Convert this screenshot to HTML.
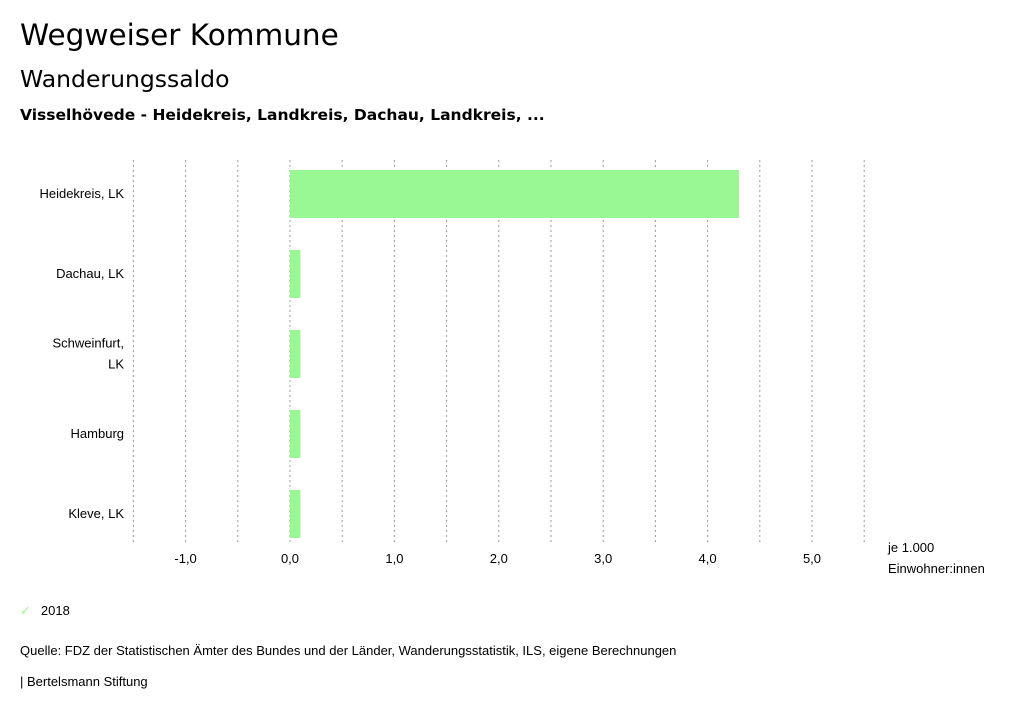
<!DOCTYPE html>
<html><head><meta charset="utf-8"><style>
body{margin:0;width:1024px;height:714px;background:#fff;font-family:"Liberation Sans",sans-serif;color:#000;position:relative;overflow:hidden}
.t{position:absolute;white-space:nowrap}
</style></head><body>
<div class="t" style="left:20px;top:18px;font-size:29.5px;font-family:'DejaVu Sans',sans-serif">Wegweiser Kommune</div>
<div class="t" style="left:20px;top:65px;font-size:23.5px;font-family:'DejaVu Sans',sans-serif">Wanderungssaldo</div>
<div class="t" style="left:20px;top:106px;font-size:15.5px;font-weight:bold;font-family:'DejaVu Sans',sans-serif">Visselhövede - Heidekreis, Landkreis, Dachau, Landkreis, ...</div>
<svg id="c" width="1024" height="714" style="position:absolute;left:0;top:0"></svg>
<div class="t" style="left:20px;top:603px;font-size:13px"><span style="color:#99f794;margin-right:10px">✓</span>2018</div>
<div class="t" style="left:20px;top:643px;font-size:13px">Quelle: FDZ der Statistischen Ämter des Bundes und der Länder, Wanderungsstatistik, ILS, eigene Berechnungen</div>
<div class="t" style="left:20px;top:674px;font-size:13px">| Bertelsmann Stiftung</div>
<script>
const categories=[["Heidekreis, LK"],["Dachau, LK"],["Schweinfurt,","LK"],["Hamburg"],["Kleve, LK"]];
const values=[4.3,0.1,0.1,0.1,0.1];
const ticks=[-1,0,1,2,3,4,5];
const tickLabels=["-1,0","0,0","1,0","2,0","3,0","4,0","5,0"];
const NS="http://www.w3.org/2000/svg";
const svg=document.getElementById('c');
const x=v=>290+v*104.4;
const y=i=>194+i*80;
function mk(t,a){const e=document.createElementNS(NS,t);for(const k in a)e.setAttribute(k,a[k]);svg.appendChild(e);return e;}
for(let v=-1.5;v<=5.51;v+=0.5){
 const l=mk('line',{x1:x(v),x2:x(v),y1:160,y2:543,stroke:'#999','stroke-dasharray':'2,3','stroke-width':1});
 
 
}
ticks.forEach((t,i)=>{
 const e=mk('text',{x:x(t),y:563,'text-anchor':'middle','font-size':13,'font-family':'Liberation Sans, sans-serif'});
 e.textContent=tickLabels[i];
 
 
});
[["je 1.000",552],["Einwohner:innen",573]].forEach(([s,yy])=>{
 const e=mk('text',{x:888,y:yy,'font-size':13,'font-family':'Liberation Sans, sans-serif'});
 e.textContent=s;
 
 
});
categories.forEach((c,i)=>{
 const b=mk('rect',{x:Math.min(x(0),x(values[i])),y:y(i)-24,width:Math.abs(x(values[i])-x(0)),height:48,fill:'#99f794'});
 
 
 c.forEach((s,j)=>{
  const t=mk('text',{x:124,y:y(i)+4+(j-(c.length-1)/2)*21,'text-anchor':'end','font-size':13,'font-family':'Liberation Sans, sans-serif'});
  t.textContent=s;
  
  
 });
});
</script>
</body></html>
